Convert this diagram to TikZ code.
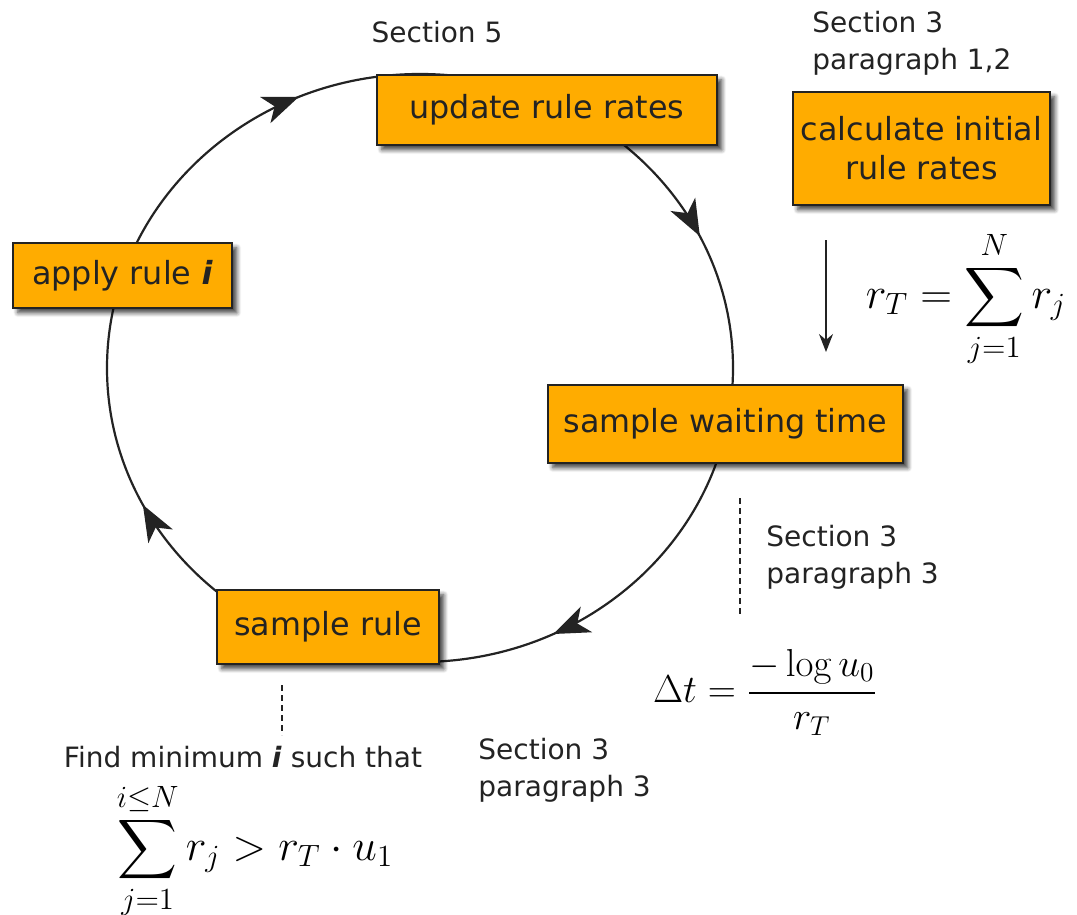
\RequirePackage{fix-cm}
\documentclass[tikz,border=0pt]{standalone}
\usepackage{amsmath}
\usepackage[no-math]{fontspec}
\setmainfont{DejaVu Sans}
\usetikzlibrary{arrows.meta, decorations.markings, shadows.blur}
\definecolor{boxorange}{RGB}{255,172,0}
\definecolor{inkgray}{RGB}{35,35,35}
\tikzset{looptip/.tip={Stealth[length=18pt, width=14pt, inset=5pt]}}

\begin{document}
\begin{tikzpicture}[x=0.5pt, y=0.5pt,
  stage/.style={draw=inkgray, line width=0.9pt, fill=boxorange,
    blur shadow={shadow xshift=2.4pt, shadow yshift=-2.4pt, shadow blur steps=6, shadow opacity=75},
    font=\fontsize{15.9}{19.5}\selectfont, text=inkgray, align=center, inner sep=0pt},
  note/.style={font=\fontsize{14}{18.5}\selectfont, text=inkgray, align=left, inner sep=0pt},
  formula/.style={inner sep=0pt, text=black},
  loop/.style={line width=1.1pt, draw=inkgray},
  cue/.style={line width=0.9pt, dash pattern=on 3pt off 2pt, draw=inkgray},
  feed/.style={line width=0.6pt, draw=inkgray, -{Stealth[length=9pt, width=7pt]}},
]
\useasboundingbox (0,0) rectangle (1077,-915);

% the simulation loop, run clockwise
\coordinate (hub) at (420,-368);
\draw[loop, postaction=decorate, decoration={markings,
    mark=at position 0.072 with {\arrowreversed{looptip}},
    mark=at position 0.315 with {\arrowreversed{looptip}},
    mark=at position 0.575 with {\arrowreversed{looptip}},
    mark=at position 0.822 with {\arrowreversed{looptip}}}]
  (hub) ellipse [x radius=313, y radius=294];

% stages of the loop
\node[stage, minimum width=170pt, minimum height=35pt] (update) at (547,-110) {update rule rates};
\node[stage, minimum width=128.5pt, minimum height=56.5pt] (initial) at (921.5,-148.5) {calculate initial\\rule rates};
\node[stage, minimum width=109.5pt, minimum height=32.5pt] (apply) at (122.5,-275.5) {apply rule \textbf{\textit{i}}};
\node[stage, minimum width=177.5pt, minimum height=39pt] (waiting) at (725.5,-424) {sample waiting time};
\node[stage, minimum width=111pt, minimum height=37pt] (rule) at (328,-627) {sample rule};

% section references
\node[note] (secfive) at (437,-32) {Section 5};
\node[note, anchor=west] (secinit) at (812,-43.5) {Section 3\\paragraph 1,2};
\node[note, anchor=west] (secwait) at (766,-557.5) {Section 3\\paragraph 3};
\node[note, anchor=west] (secrule) at (478,-770) {Section 3\\paragraph 3};

% total rate entering the loop
\coordinate (feedtop) at (826,-240);
\coordinate (feedend) at (826,-352);
\draw[feed] (feedtop) -- (feedend);
\node[formula, font=\fontsize{22}{26}\selectfont] (total) at (966,-299) {$\displaystyle r_T=\sum_{j=1}^{N} r_j$};

% waiting time
\coordinate (waitcueA) at (740,-498);
\coordinate (waitcueB) at (740,-615);
\draw[cue] (waitcueA) -- (waitcueB);
\node[formula, font=\fontsize{19.5}{23}\selectfont] (dt) at (765,-692) {$\displaystyle \Delta t=\frac{-\log u_0}{r_T}$};

% rule selection
\coordinate (rulecueA) at (282,-685);
\coordinate (rulecueB) at (282,-735);
\draw[cue] (rulecueA) -- (rulecueB);
\node[note] (findmin) at (243,-757) {Find minimum \textbf{\textit{i}} such that};
\node[formula, font=\fontsize{22}{26}\selectfont] (pick) at (255,-851) {$\displaystyle\sum_{j=1}^{i\leq N} r_j > r_T\cdot u_1$};
\end{tikzpicture}
\end{document}
